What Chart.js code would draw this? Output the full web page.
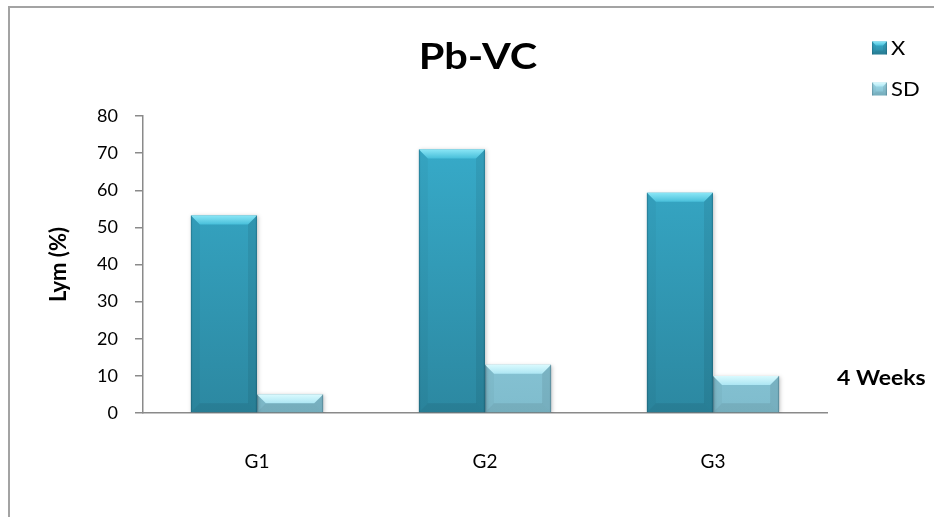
<!DOCTYPE html>
<html>
<head>
<meta charset="utf-8">
<script src="https://cdn.jsdelivr.net/npm/chart.js@4.4.1/dist/chart.umd.min.js"></script>
<style>
  html, body { margin: 0; padding: 0; background: #ffffff; }
  #wrap { width: 934px; height: 517px; position: relative; }
</style>
</head>
<body>
<div id="wrap"><canvas id="c" width="934" height="517"></canvas></div>
<script>
// Lymphocyte percentages, Pb-VC group, 4 weeks
const categories = ['G1', 'G2', 'G3'];
const meanValues = [53.2, 71.0, 59.3];
const sdValues = [5.0, 13.0, 10.0];
const seriesNames = ['X', 'SD'];
const yTickValues = [0, 10, 20, 30, 40, 50, 60, 70, 80];
const chartTitle = 'Pb-VC';
const yAxisTitle = 'Lym (%)';
const periodLabel = '4 Weeks';

const FONT = 'Lato, "Open Sans", "DejaVu Sans", sans-serif';

// Colour sets for the bevelled bars: body top/bottom, top-facet light/dark
const palettes = [
  { top: '#38aecd', bottom: '#2c88a1', hi: '#8ae6f6', hi2: '#48bfda' },
  { top: '#a2ddec', bottom: '#7fbccd', hi: '#dafafe', hi2: '#ade6f3' }
];

function poly(ctx, pts, style) {
  ctx.beginPath();
  ctx.moveTo(pts[0][0], pts[0][1]);
  for (let i = 1; i < pts.length; i++) ctx.lineTo(pts[i][0], pts[i][1]);
  ctx.closePath();
  ctx.fillStyle = style;
  ctx.fill();
}

// Facets drawn over a bar rectangle to give it a raised look
function bevel(ctx, l, t, r, b, pal, size) {
  const k = Math.min(size, (b - t) / 2, (r - l) / 2);
  const gt = ctx.createLinearGradient(0, t, 0, t + k);
  gt.addColorStop(0, pal.hi);
  gt.addColorStop(1, pal.hi2);
  poly(ctx, [[l, t], [r, t], [r - k, t + k], [l + k, t + k]], gt);
  poly(ctx, [[l, t], [l + k, t + k], [l + k, b - k], [l, b]], 'rgba(0,0,0,0.03)');
  poly(ctx, [[r, t], [r - k, t + k], [r - k, b - k], [r, b]], 'rgba(0,0,0,0.07)');
  poly(ctx, [[l, b], [r, b], [r - k, b - k], [l + k, b - k]], 'rgba(0,0,0,0.08)');
  ctx.fillStyle = 'rgba(0,30,45,0.2)';
  ctx.fillRect(l, t, 1.2, b - t);
  ctx.fillRect(r - 1.2, t, 1.2, b - t);
}

function bodyGradient(ctx, top, bottom, pal) {
  const g = ctx.createLinearGradient(0, top, 0, bottom);
  g.addColorStop(0, pal.top);
  g.addColorStop(1, pal.bottom);
  return g;
}

// Text drawn with a slight horizontal widening
function wideText(ctx, text, x, y, align, stretch) {
  ctx.save();
  ctx.translate(x, y);
  ctx.scale(stretch, 1);
  ctx.textAlign = align;
  ctx.textBaseline = 'middle';
  ctx.fillText(text, 0, 0);
  ctx.restore();
}

const decorations = {
  id: 'decorations',
  beforeDraw(chart) {
    const ctx = chart.ctx;
    ctx.save();
    ctx.strokeStyle = '#a3a3a3';
    ctx.lineWidth = 2;
    ctx.beginPath();
    ctx.moveTo(9, chart.height);
    ctx.lineTo(9, 7);
    ctx.lineTo(chart.width, 7);
    ctx.stroke();
    ctx.restore();
  },
  beforeDatasetsDraw(chart) {
    const ctx = chart.ctx;
    ctx.save();
    ctx.shadowColor = 'rgba(0,0,0,0.25)';
    ctx.shadowBlur = 4;
    ctx.shadowOffsetX = 1;
    ctx.shadowOffsetY = 1;
  },
  afterDatasetsDraw(chart) {
    const ctx = chart.ctx;
    ctx.restore();
    ctx.save();
    chart.data.datasets.forEach((ds, di) => {
      const meta = chart.getDatasetMeta(di);
      meta.data.forEach(bar => {
        const p = bar.getProps(['x', 'y', 'base', 'width'], true);
        bevel(ctx, p.x - p.width / 2, p.y, p.x + p.width / 2, p.base, palettes[di], 9);
      });
    });
    ctx.restore();
  },
  afterDraw(chart) {
    const ctx = chart.ctx;
    const area = chart.chartArea;
    ctx.save();
    ctx.fillStyle = '#000000';
    // chart heading
    ctx.font = 'bold 37px ' + FONT;
    wideText(ctx, chartTitle, 478, 57, 'center', 1.12);
    // period label beside the category axis
    ctx.font = 'bold 20px ' + FONT;
    wideText(ctx, periodLabel, area.right + 10, 379, 'left', 1.15);
    // legend
    ctx.font = '20px ' + FONT;
    const rows = [48, 89];
    seriesNames.forEach((name, i) => {
      const y = rows[i];
      const l = 872, r = 887, t = y - 6.5, b = y + 6.5;
      ctx.fillStyle = bodyGradient(ctx, t, b, palettes[i]);
      ctx.fillRect(l, t, r - l, b - t);
      bevel(ctx, l, t, r, b, palettes[i], 4);
      ctx.fillStyle = '#000000';
      wideText(ctx, name, 891, y + 1, 'left', 1.1);
    });
    ctx.restore();
  }
};

function barFill(di) {
  return (c) => {
    const area = c.chart.chartArea;
    if (!area) return palettes[di].top;
    return bodyGradient(c.chart.ctx, area.top, area.bottom, palettes[di]);
  };
}

new Chart(document.getElementById('c'), {
  type: 'bar',
  data: {
    labels: categories,
    datasets: [
      { label: seriesNames[0], data: meanValues, backgroundColor: barFill(0), borderWidth: 0 },
      { label: seriesNames[1], data: sdValues, backgroundColor: barFill(1), borderWidth: 0 }
    ]
  },
  options: {
    responsive: false,
    animation: false,
    devicePixelRatio: 1,
    categoryPercentage: 0.58,
    barPercentage: 1.0,
    layout: { padding: { left: 0, top: 116, right: 107, bottom: 0 } },
    plugins: {
      legend: { display: false },
      title: { display: false },
      tooltip: { enabled: false }
    },
    scales: {
      x: {
        afterFit: (s) => { s.height = 104; },
        grid: { display: false },
        border: { display: true, color: '#8a8a8a', width: 1.5 },
        ticks: { color: '#000000', padding: 29, font: { family: FONT, size: 19 } }
      },
      y: {
        min: 0,
        max: 80,
        afterBuildTicks: (s) => { s.ticks = yTickValues.map(v => ({ value: v })); },
        afterFit: (s) => { s.width = 143; },
        grid: { display: true, drawOnChartArea: false, drawTicks: true, tickLength: 8, color: '#8a8a8a', lineWidth: 1.5 },
        border: { display: true, color: '#8a8a8a', width: 1.5 },
        ticks: { color: '#000000', padding: 17, font: { family: FONT, size: 18 } },
        title: {
          display: true,
          text: yAxisTitle,
          color: '#000000',
          font: { family: FONT, size: 22, weight: 'bold' },
          padding: { top: 46, bottom: 0 }
        }
      }
    }
  },
  plugins: [decorations]
});
</script>
</body>
</html>
